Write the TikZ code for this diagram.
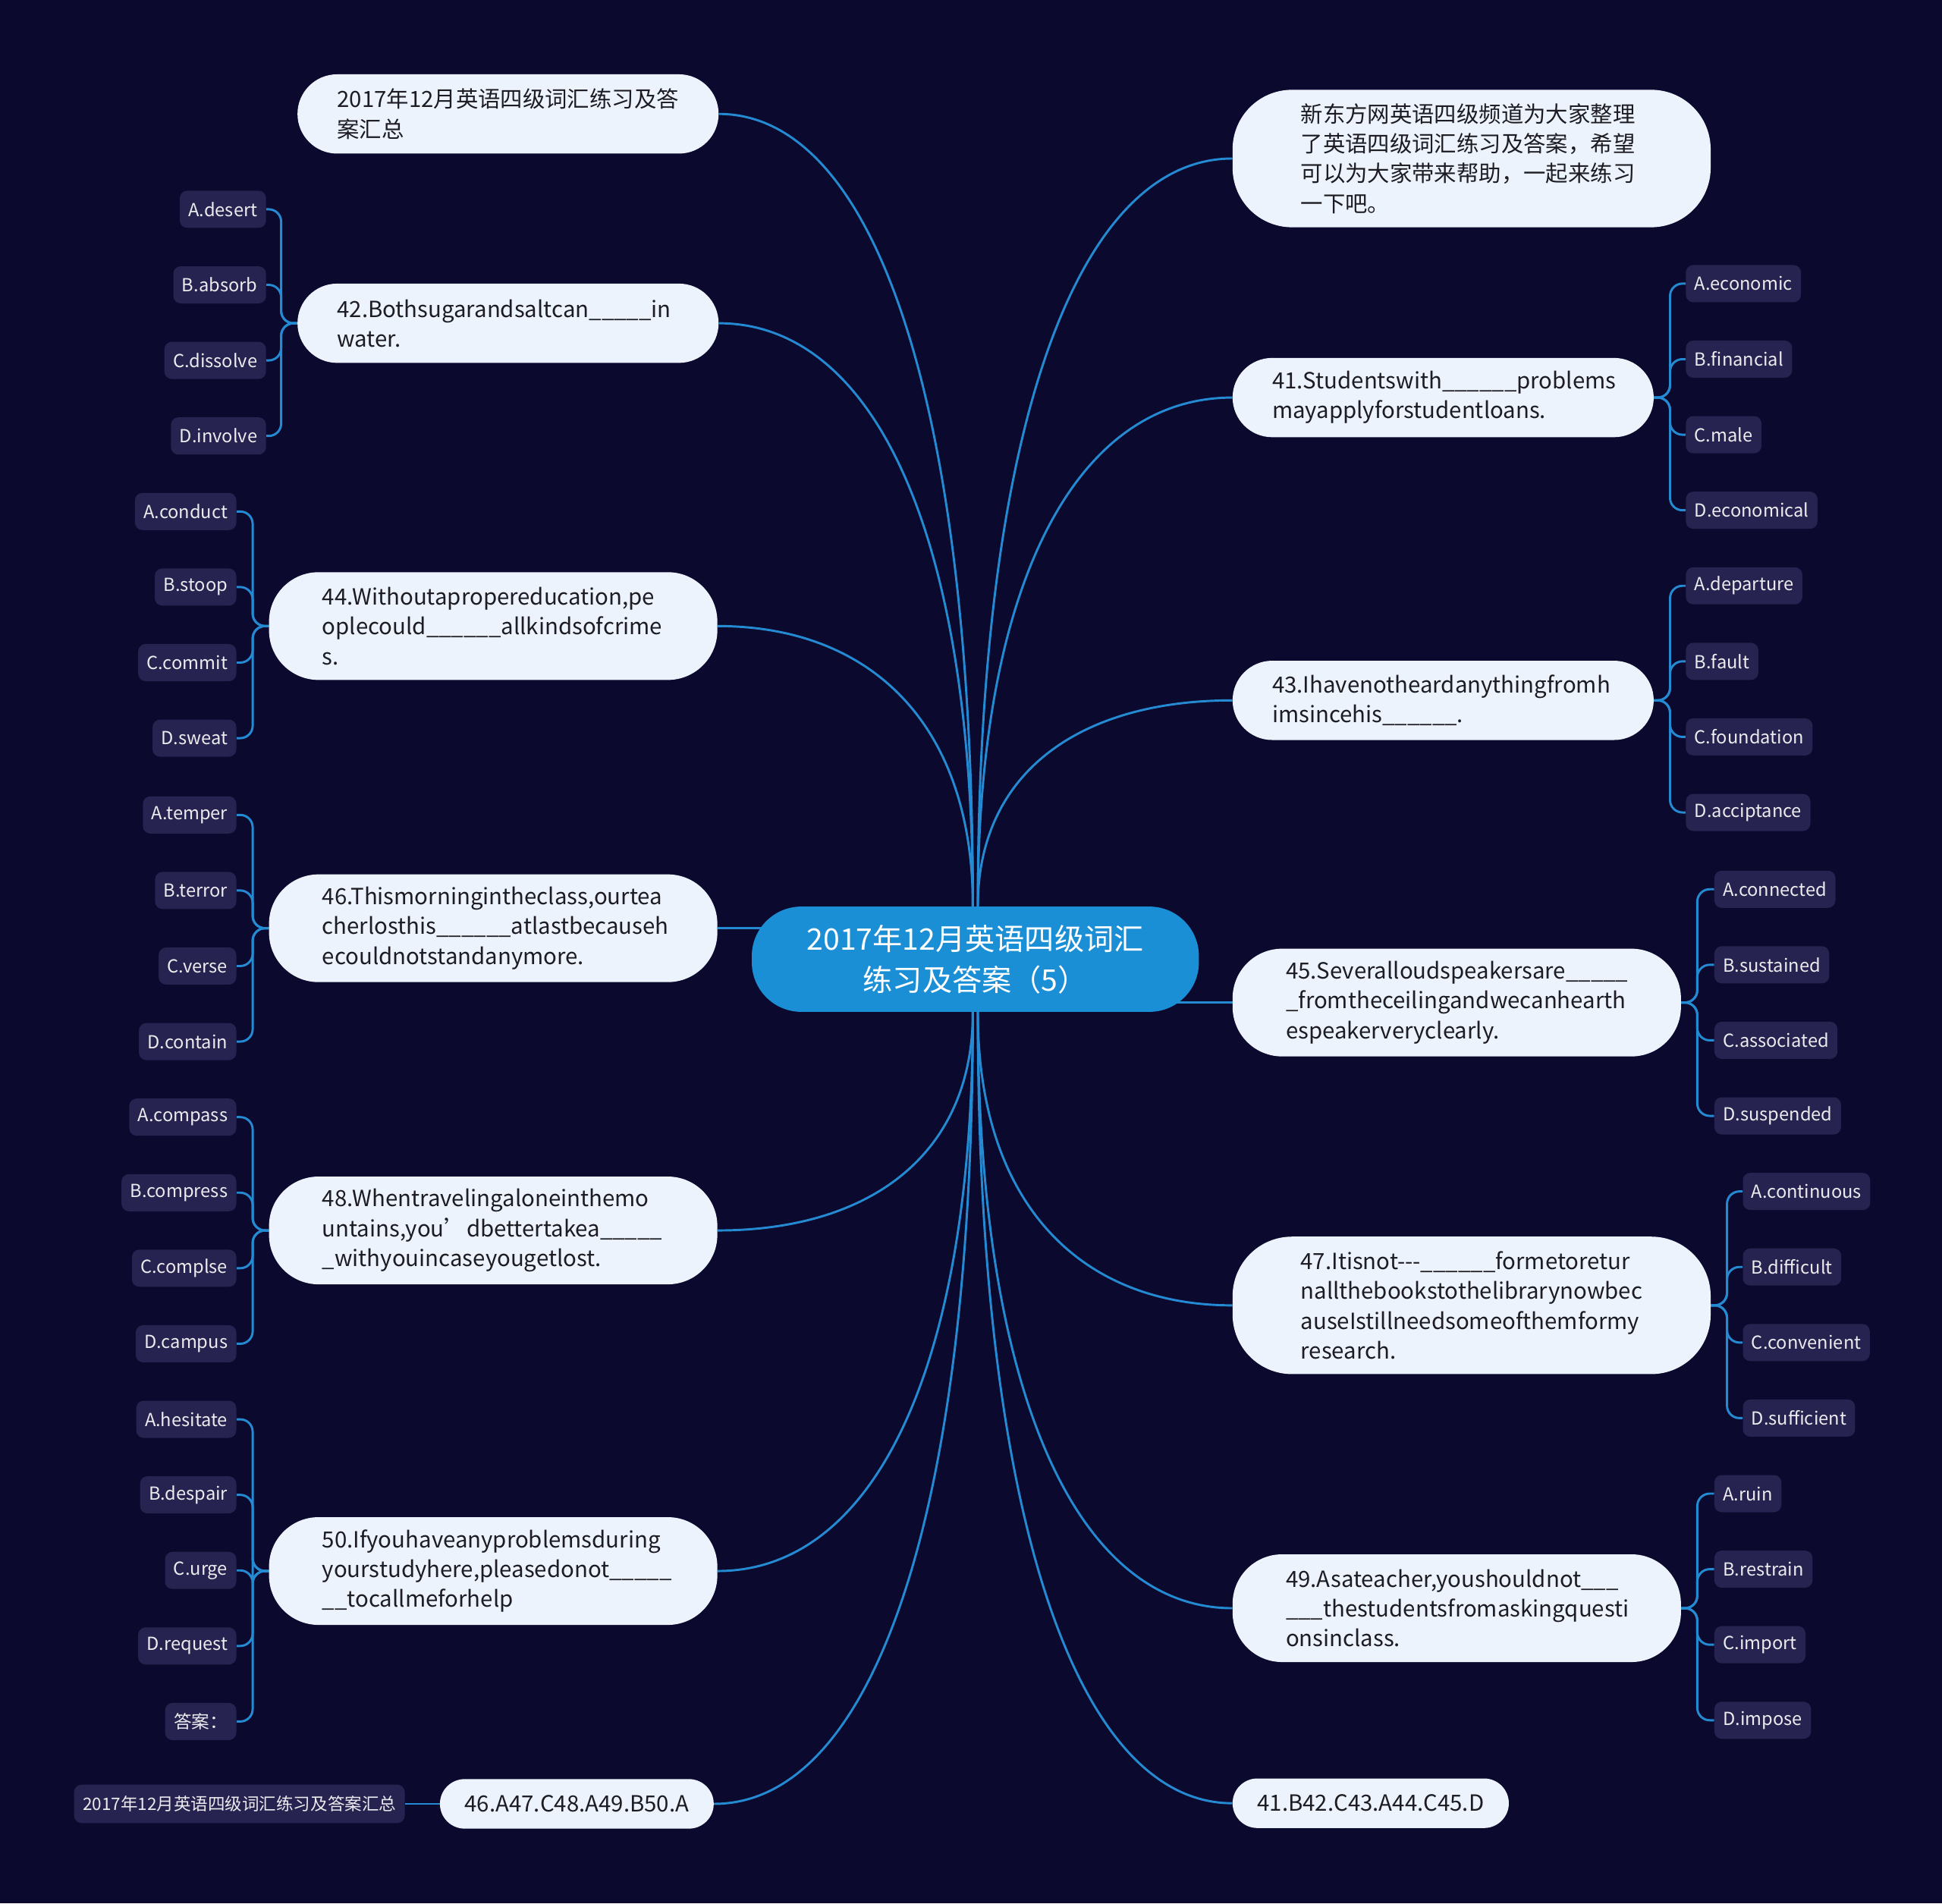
\documentclass[tikz,border=0pt]{standalone}
\usepackage{fontspec}
\setmainfont{Noto Sans CJK SC}[Ligatures=TeXOff]
\usepackage{xcolor}
\usetikzlibrary{calc}
\hyphenpenalty=10000
\definecolor{night}{RGB}{12,9,46}
\definecolor{paper}{RGB}{237,243,253}
\definecolor{hubblue}{RGB}{27,143,214}
\definecolor{chip}{RGB}{38,35,80}
\definecolor{wirec}{RGB}{36,138,210}
\definecolor{ink}{RGB}{28,28,34}
\pgfdeclarelayer{canvas}
\pgfdeclarelayer{wires}
\pgfsetlayers{canvas,wires,main}
\tikzstyle{hub} = [fill=hubblue, text=white, rounded corners=40pt,
    minimum width=361pt, minimum height=85pt, align=center,
    font=\fontsize{24}{33}\selectfont]
\tikzstyle{q-card} = [fill=paper, text=ink, rectangle, anchor=west,
    text width=276pt, align=left, inner ysep=0pt,
    font=\fontsize{18}{24}\selectfont]
\tikzstyle{card-two} = [q-card, minimum height=64pt, inner xsep=32pt, rounded corners=32pt]
\tikzstyle{card-three} = [q-card, minimum height=87pt, inner xsep=43pt, rounded corners=40pt]
\tikzstyle{card-four} = [q-card, minimum height=111pt, inner xsep=55pt, rounded corners=48pt]
\tikzstyle{card-one} = [fill=paper, text=ink, rectangle, anchor=west, minimum height=40pt,
    inner xsep=20pt, rounded corners=20pt, font=\fontsize{18}{24}\selectfont]
\tikzstyle{opt-chip} = [fill=chip, text=white!92!night, rounded corners=6pt,
    minimum height=30pt, inner xsep=7pt, inner ysep=0pt,
    font=\fontsize{14.5}{17}\selectfont]
\tikzstyle{opt-l} = [opt-chip, anchor=east]
\tikzstyle{opt-r} = [opt-chip, anchor=west]
\tikzstyle{link} = [draw=wirec, line width=1.8pt]

\begin{document}
\begin{tikzpicture}[x=1pt,y=-1pt]
\useasboundingbox (0,0) rectangle (1568,1537);
\begin{pgfonlayer}{canvas}
\fill[night] (0,0) rectangle (1568,1537);
\end{pgfonlayer}

% centre
\node[hub] (hub) at (787.5,774.5) {2017年12月英语四级词汇\\练习及答案（5）};

% left branch
\node[card-two] (sum) at (240,92) {2017年12月英语四级词汇练习及答\\案汇总};
\node[card-two] (q42) at (240,261) {42.Bothsugarandsaltcan\_\_\_\_\_in\\water.};
\node[card-three] (q44) at (217,505.5) {44.Withoutapropereducation,pe\\oplecould\_\_\_\_\_\_allkindsofcrime\\s.};
\node[card-three] (q46) at (217,749.5) {46.Thismorningintheclass,ourtea\\cherlosthis\_\_\_\_\_\_atlastbecauseh\\ecouldnotstandanymore.};
\node[card-three] (q48) at (217,993.5) {48.Whentravelingaloneinthemo\\untains,you’dbettertakea\_\_\_\_\_\\\_withyouincaseyougetlost.};
\node[card-three] (q50) at (217,1268.5) {50.Ifyouhaveanyproblemsduring\\yourstudyhere,pleasedonot\_\_\_\_\_\\\_\_tocallmeforhelp};
\node[card-one] (keyL) at (355,1456.5) {46.A47.C48.A49.B50.A};
\node[opt-l, minimum height=31pt, font=\fontsize{13.8}{16}\selectfont] (src) at (327,1456.5) {2017年12月英语四级词汇练习及答案汇总};

% right branch
\node[card-four] (intro) at (995,128) {新东方网英语四级频道为大家整理\\了英语四级词汇练习及答案，希望\\可以为大家带来帮助，一起来练习\\一下吧。};
\node[card-two] (q41) at (995,321) {41.Studentswith\_\_\_\_\_\_problems\\mayapplyforstudentloans.};
\node[card-two] (q43) at (995,565.5) {43.Ihavenotheardanythingfromh\\imsincehis\_\_\_\_\_\_.};
\node[card-three] (q45) at (995,809.5) {45.Severalloudspeakersare\_\_\_\_\_\\\_fromtheceilingandwecanhearth\\espeakerveryclearly.};
\node[card-four] (q47) at (995,1054) {47.Itisnot---\_\_\_\_\_\_formetoretur\\nallthebookstothelibrarynowbec\\auseIstillneedsomeofthemformy\\research.};
\node[card-three] (q49) at (995,1298.5) {49.Asateacher,youshouldnot\_\_\_\\\_\_\_thestudentsfromaskingquesti\\onsinclass.};
\node[card-one] (keyR) at (995,1456) {41.B42.C43.A44.C45.D};

% options
\foreach \t [count=\i] in {A.desert,B.absorb,C.dissolve,D.involve}
  \node[opt-l] (q42-\i) at (215,{108+61*\i}) {\t};
\foreach \t [count=\i] in {A.conduct,B.stoop,C.commit,D.sweat}
  \node[opt-l] (q44-\i) at (191,{352+61*\i}) {\t};
\foreach \t [count=\i] in {A.temper,B.terror,C.verse,D.contain}
  \node[opt-l] (q46-\i) at (191,{597+61*\i}) {\t};
\foreach \t [count=\i] in {A.compass,B.compress,C.complse,D.campus}
  \node[opt-l] (q48-\i) at (191,{841+61*\i}) {\t};
\foreach \t [count=\i] in {A.hesitate,B.despair,C.urge,D.request,答案：}
  \node[opt-l] (q50-\i) at (191,{1085+61*\i}) {\t};
\foreach \t [count=\i] in {A.economic,B.financial,C.male,D.economical}
  \node[opt-r] (q41-\i) at (1361,{168+61*\i}) {\t};
\foreach \t [count=\i] in {A.departure,B.fault,C.foundation,D.acciptance}
  \node[opt-r] (q43-\i) at (1361,{412+61*\i}) {\t};
\foreach \t [count=\i] in {A.connected,B.sustained,C.associated,D.suspended}
  \node[opt-r] (q45-\i) at (1384,{657+61*\i}) {\t};
\foreach \t [count=\i] in {A.continuous,B.difficult,C.convenient,D.sufficient}
  \node[opt-r] (q47-\i) at (1407,{901+61*\i}) {\t};
\foreach \t [count=\i] in {A.ruin,B.restrain,C.import,D.impose}
  \node[opt-r] (q49-\i) at (1384,{1145+61*\i}) {\t};

\begin{pgfonlayer}{wires}
% hub to questions
\foreach \n in {sum,q42,q44} {
  \path ([xshift=-2pt]hub.north) coordinate (s) (s |- \n.east) coordinate (k);
  \draw[link] (s) .. controls ($(s)!0.65!(k)$) and ($(\n.east)!0.6!(k)$) .. (\n.east);
}
\foreach \n in {q48,q50,keyL} {
  \path ([xshift=-2pt]hub.south) coordinate (s) (s |- \n.east) coordinate (k);
  \draw[link] (s) .. controls ($(s)!0.65!(k)$) and ($(\n.east)!0.6!(k)$) .. (\n.east);
}
\foreach \n in {intro,q41,q43} {
  \path ([xshift=2pt]hub.north) coordinate (s) (s |- \n.west) coordinate (k);
  \draw[link] (s) .. controls ($(s)!0.65!(k)$) and ($(\n.west)!0.6!(k)$) .. (\n.west);
}
\foreach \n in {q47,q49,keyR} {
  \path ([xshift=2pt]hub.south) coordinate (s) (s |- \n.west) coordinate (k);
  \draw[link] (s) .. controls ($(s)!0.65!(k)$) and ($(\n.west)!0.6!(k)$) .. (\n.west);
}
\draw[link] (q46.east) -- (q46.east -| hub.center);
\draw[link] (q45.west) -- (q45.west -| hub.center);
\draw[link] (keyL.west) -- (src.east);
% questions to options
\foreach \n in {q42,q44,q46,q48}
  \foreach \i in {1,...,4}
    \draw[link, rounded corners=10pt] (\n.west) -- ++(-13,0) |- (\n-\i.east);
\foreach \i in {1,...,5}
  \draw[link, rounded corners=10pt] (q50.west) -- ++(-13,0) |- (q50-\i.east);
\foreach \n in {q41,q43,q45,q47,q49}
  \foreach \i in {1,...,4}
    \draw[link, rounded corners=10pt] (\n.east) -- ++(13,0) |- (\n-\i.west);
\end{pgfonlayer}
\end{tikzpicture}
\end{document}
